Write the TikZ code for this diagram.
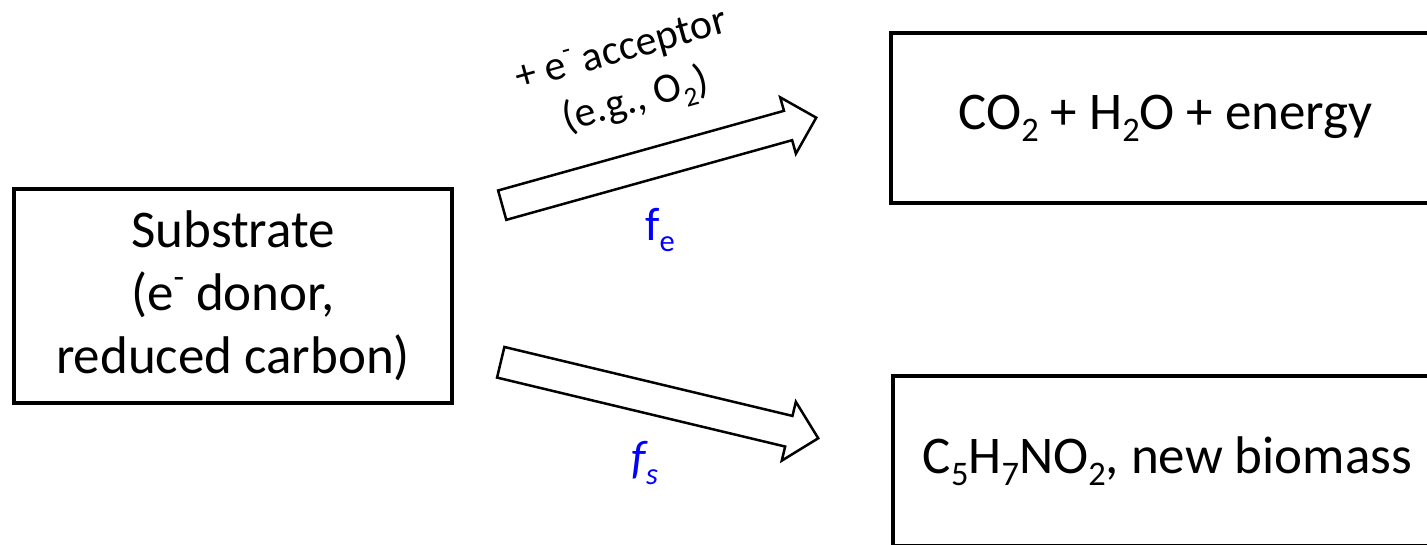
\documentclass[tikz,border=0pt]{standalone}
\usepackage{fontspec}
\setmainfont{Carlito}
\usetikzlibrary{shapes.arrows}
\newcommand\dn[1]{\raisebox{-0.22em}{\scalebox{0.65}{#1}}}
\newcommand\up[1]{\raisebox{0.42em}{\scalebox{0.65}{#1}}}
\begin{document}
\begin{tikzpicture}[x=1pt,y=1pt,
  box/.style={draw, line width=3.5pt, rectangle, align=center, inner sep=0pt},
  blockarrow/.style={draw, line width=2.5pt, single arrow, inner xsep=0pt, fill=white, anchor=tail},
  bigtext/.style={font=\fontsize{53}{63}\selectfont},
  lbl/.style={font=\fontsize{42}{52}\selectfont},
  flbl/.style={font=\fontsize{47}{52}\selectfont, text=blue}]
\useasboundingbox (0,0) rectangle (1427,545);
\clip (0,0) rectangle (1427,545);
\node[box, bigtext, minimum width=438, minimum height=214] (sub) at (233,249) {Substrate\\(e\up{-} donor,\\reduced carbon)};
\node[box, bigtext, minimum width=549, minimum height=170] (en) at (1165.5,427) {CO\dn{2} + H\dn{2}O + energy};
\node[box, bigtext, minimum width=549, minimum height=170] (bio) at (1167.5,84) {C\dn{5}H\dn{7}NO\dn{2}, new biomass};
\node[blockarrow, rotate=15.57, minimum height=326, inner ysep=14, single arrow head extend=14] (ae) at (501,339.5) {};
\node[blockarrow, rotate=-13.46, minimum height=326.5, inner ysep=14.5, single arrow head extend=14.5] (as) at (499.5,183) {};
\node[lbl, rotate=15.6, align=center] (acc) at (629,467) {+ e\up{-} acceptor\\(e.g., O\dn{2})};
\node[flbl] (fe) at (660,315) {f\dn{e}};
\node[flbl] (fs) at (645,82) {\itshape f\dn{s}};
\end{tikzpicture}
\end{document}
